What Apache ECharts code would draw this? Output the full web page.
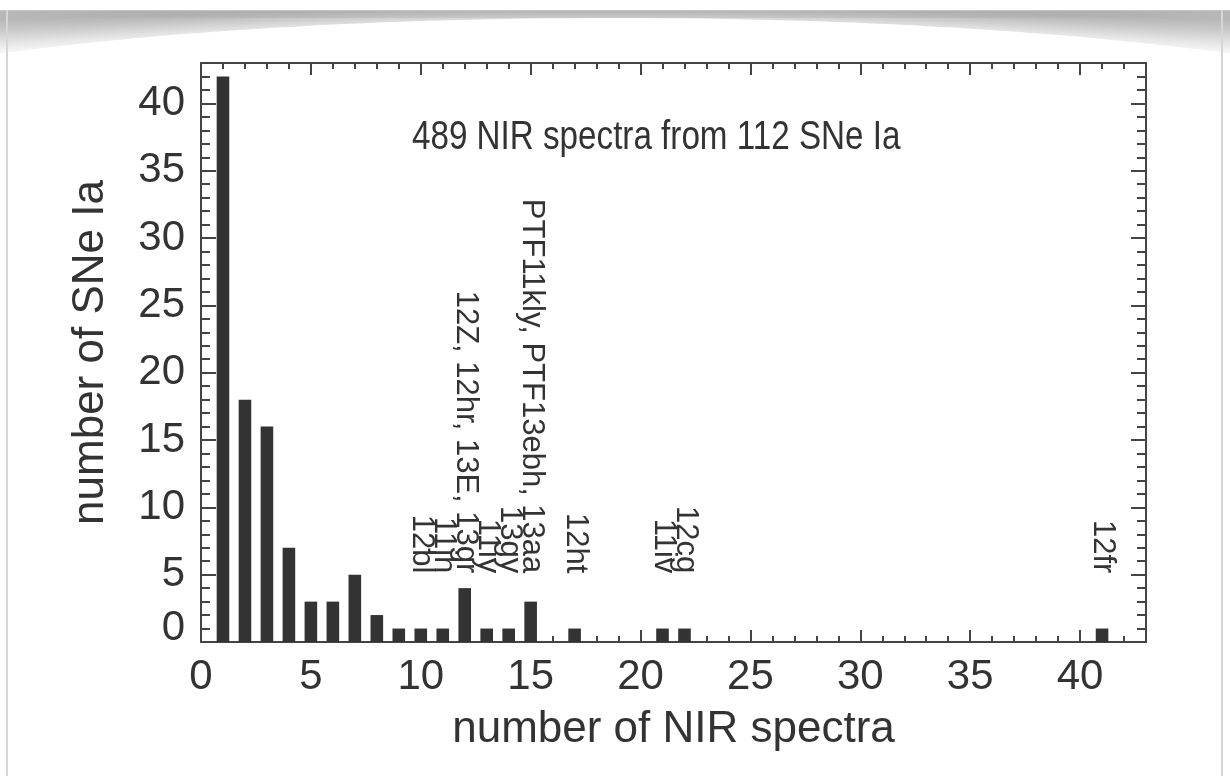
<!DOCTYPE html>
<html><head><meta charset="utf-8">
<script src="https://cdn.jsdelivr.net/npm/echarts@6/dist/echarts.min.js"></script>
<style>html,body{margin:0;padding:0;background:#fff}#c{width:1230px;height:776px}</style>
</head><body><div id="c"></div>
<script>
// ---- data ----
const nSpectra = [1, 2, 3, 4, 5, 6, 7, 8, 9, 10, 11, 12, 13, 14, 15, 17, 21, 22, 41];
const nSNe     = [42, 18, 16, 7, 3, 3, 5, 2, 1, 1, 1, 4, 1, 1, 3, 1, 1, 1, 1];
const noteX    = [10, 11, 12, 13, 14, 15, 17, 21, 22, 41];
const noteText = ['12bl', '11jh', '12Z, 12hr, 13E, 13gr', '11iy', '13gy',
                  'PTF11kly, PTF13ebh, 13aa', '12ht', '11iv', '12cg', '12fr'];
const titleText = '489 NIR spectra from 112 SNe Ia';
const xName = 'number of NIR spectra';
const yName = 'number of SNe Ia';

// ---- style ----
const FONT = "'Liberation Sans', Arial, Helvetica, sans-serif";
const INK = '#333333';
const AX = '#444444';
const NOTE_Y = 5.1;

const chart = echarts.init(document.getElementById('c'), null, {renderer: 'canvas'});

function axis(dim, pos, major, labels) {
  const isX = dim === 'x';
  const a = {
    type: 'value', position: pos, min: 0, max: 43, interval: major ? 5 : 1,
    axisLine: {show: major, onZero: false, lineStyle: {color: AX, width: 2}},
    axisTick: {show: true, inside: true, length: major ? (isX ? 12 : 15) : (isX ? 6 : 9),
               lineStyle: {color: AX, width: 2}},
    minorTick: {show: false},
    splitLine: {show: false},
    axisLabel: {show: false}
  };
  if (labels) {
    a.axisLabel = {
      show: true, color: INK, fontFamily: FONT, fontSize: 42, margin: isX ? 14 : 16,
      formatter: function (v) {
        if (v % 5 !== 0) return '';
        if (!isX && v === 0) return '{z|0}';
        return String(v);
      },
      rich: {z: {fontFamily: FONT, fontSize: 42, color: INK, padding: [0, 0, 27, 0]}}
    };
    a.name = isX ? xName : yName;
    a.nameLocation = 'middle';
    a.nameGap = isX ? 66 : 88;
    a.nameTextStyle = {color: INK, fontFamily: FONT, fontSize: 44};
  }
  return a;
}

const option = {
  backgroundColor: '#ffffff',
  animation: false,
  grid: {left: 201, right: 84, top: 63, bottom: 134, containLabel: false},
  xAxis: [axis('x', 'bottom', true, true), axis('x', 'bottom', false, false),
          axis('x', 'top', true, false), axis('x', 'top', false, false)],
  yAxis: [axis('y', 'left', true, true), axis('y', 'left', false, false),
          axis('y', 'right', true, false), axis('y', 'right', false, false)],
  series: [{
    type: 'bar', xAxisIndex: 0, yAxisIndex: 0,
    barWidth: 12.6,
    itemStyle: {color: INK},
    data: nSpectra.map((x, i) => [x, nSNe[i]]),
    z: 1
  }]
};
chart.setOption(option);

// ---- decorations + annotations ----
const graphics = [
  // slide-style shadow at top
  {type: 'rect', z: -10, silent: true, shape: {x: 0, y: 10, width: 1230, height: 70},
   style: {fill: new echarts.graphic.LinearGradient(0, 0, 0, 1, [
     {offset: 0, color: '#a8a8a8'}, {offset: 0.75, color: '#ffffff'}, {offset: 1, color: '#ffffff'}])}},
  {type: 'rect', z: -10, silent: true, shape: {x: 0, y: 10, width: 1230, height: 8},
   style: {fill: new echarts.graphic.LinearGradient(0, 0, 1, 0, [
     {offset: 0, color: '#b8b8b8'}, {offset: 0.5, color: '#959595'}, {offset: 1, color: '#b8b8b8'}])}},
  {type: 'ellipse', z: -9, silent: true, shape: {cx: 615, cy: 150, rx: 900, ry: 132},
   style: {fill: '#ffffff', shadowBlur: 24, shadowColor: '#ffffff'}},
  {type: 'rect', z: -8, silent: true, shape: {x: 0, y: 80, width: 1230, height: 700},
   style: {fill: '#ffffff'}},
  {type: 'line', z: -7, silent: true, shape: {x1: 0, y1: 10.5, x2: 1230, y2: 10.5},
   style: {stroke: '#c4c4c4', lineWidth: 1}},
  {type: 'line', z: -7, silent: true, shape: {x1: 7, y1: 10, x2: 7, y2: 776},
   style: {stroke: '#d6d6d6', lineWidth: 2}},
  {type: 'line', z: -7, silent: true, shape: {x1: 1222, y1: 10, x2: 1222, y2: 776},
   style: {stroke: '#d6d6d6', lineWidth: 2}},
  // title
  {type: 'text', z: 10, x: 412, y: 138, scaleX: 0.83, scaleY: 1,
   style: {text: titleText, fill: INK, font: '40px ' + FONT, align: 'left', verticalAlign: 'middle'}}
];
noteX.forEach(function (x, i) {
  const p = chart.convertToPixel({xAxisIndex: 0, yAxisIndex: 0}, [x, NOTE_Y]);
  graphics.push({
    type: 'text', z: 10, x: p[0] + 1, y: p[1], rotation: -Math.PI / 2,
    style: {text: noteText[i], fill: INK, font: '31px ' + FONT, align: 'right', verticalAlign: 'middle'}
  });
});
chart.setOption({graphic: graphics});
</script>
</body></html>
